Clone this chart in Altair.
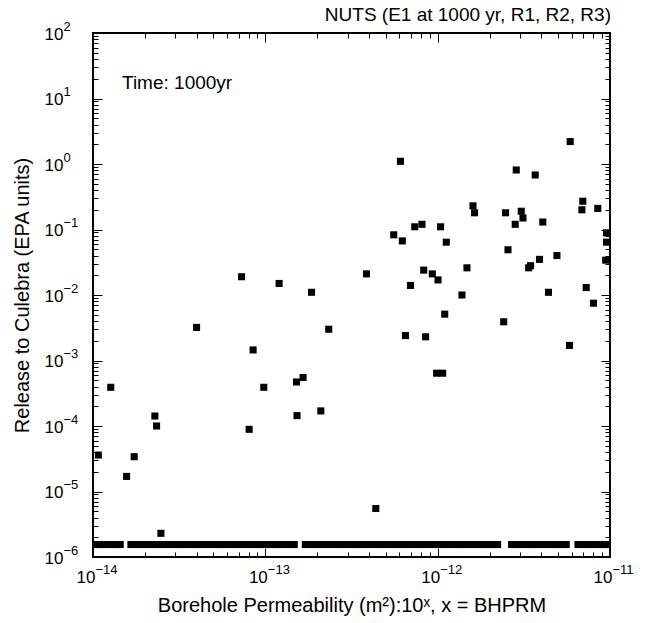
import altair as alt
import pandas as pd

W, H = 517, 524
FONT = "Liberation Sans"

# BHPRM (exponent of borehole permeability) and release for points above the floor
pt_bhprm = [
    -13.138, -12.920, -12.732, -12.413, -11.231, -12.216, -11.544, -11.434,
    -11.795, -11.786, -11.158, -11.163, -11.071, -11.606, -11.515, -11.505,
    -11.550, -11.390, -12.133, -12.091, -11.983, -12.255, -12.205, -11.950,
    -11.592, -11.308, -11.409, -11.461, -11.472, -11.020, -11.020, -11.025,
    -12.081, -12.031, -11.998, -11.830, -12.158, -11.859, -11.357, -11.138,
    -11.096, -13.399, -12.632, -13.071, -13.897, -13.009, -12.819, -12.781,
    -13.641, -13.631, -12.816, -12.678, -13.094, -13.969, -13.761, -13.805,
    -13.606, -12.359, -11.959, -11.617, -12.187, -12.070, -11.235, -12.006,
    -11.971,
]
pt_release = [
    1.9e-2, 1.5e-2, 1.1e-2, 2.1e-2, 2.2, 1.1, 0.81, 0.68,
    0.23, 0.18, 0.27, 0.20, 0.21, 0.18, 0.19, 0.15,
    0.12, 0.13, 0.11, 0.12, 0.11, 0.083, 0.067, 0.064,
    0.049, 0.040, 0.035, 0.028, 0.026, 0.089, 0.064, 0.034,
    0.024, 0.021, 0.017, 0.026, 0.014, 0.010, 0.011, 0.013,
    0.0075, 3.2e-3, 3.0e-3, 1.45e-3, 3.9e-4, 3.9e-4, 4.7e-4, 5.5e-4,
    1.42e-4, 1.0e-4, 1.44e-4, 1.7e-4, 8.9e-5, 3.6e-5, 3.4e-5, 1.7e-5,
    2.3e-6, 5.5e-6, 5.1e-3, 3.9e-3, 2.4e-3, 2.3e-3, 1.7e-3, 6.4e-4,
    6.4e-4,
]

# BHPRM of the realisations whose release is at the plotting floor
floor_bhprm = [
    -13.980, -13.955, -13.928, -13.899, -13.870, -13.842,
    -13.780, -13.752, -13.721, -13.694, -13.663, -13.637, -13.606, -13.578,
    -13.549, -13.520, -13.492, -13.461, -13.433, -13.404, -13.376, -13.345,
    -13.318, -13.287, -13.259, -13.230, -13.201, -13.172, -13.143, -13.115,
    -13.084, -13.057, -13.027, -12.998, -12.970, -12.941, -12.913, -12.884,
    -12.857, -12.832,
    -12.768, -12.740, -12.711, -12.682, -12.651, -12.624, -12.594, -12.566,
    -12.537, -12.507, -12.479, -12.450, -12.421, -12.393, -12.362, -12.335,
    -12.305, -12.277, -12.248, -12.219, -12.190, -12.161, -12.133, -12.104,
    -12.075, -12.046, -12.017, -11.989, -11.958, -11.930, -11.902, -11.872,
    -11.844, -11.815, -11.786, -11.757, -11.728, -11.699, -11.681, -11.652,
    -11.571, -11.543, -11.513, -11.485, -11.455, -11.427, -11.398, -11.369,
    -11.340, -11.311, -11.282, -11.254,
    -11.186, -11.157, -11.128, -11.100, -11.071, -11.045, -11.025,
]
FLOOR = 1.55e-6

x_major = [1e-14, 1e-13, 1e-12, 1e-11]
y_major = [1e-6, 1e-5, 1e-4, 1e-3, 1e-2, 1e-1, 1e0, 1e1, 1e2]
x_minor = [m * d for d in x_major[:-1] for m in range(2, 10)]
y_minor = [m * d for d in y_major[:-1] for m in range(2, 10)]

df = pd.DataFrame({
    "perm": [10.0 ** b for b in pt_bhprm + floor_bhprm],
    "release": pt_release + [FLOOR] * len(floor_bhprm),
})

xs = alt.Scale(type="log", domain=[1e-14, 1e-11], nice=False)
ys = alt.Scale(type="log", domain=[1e-6, 1e2], nice=False)

EXP = ("round(log(datum.value)/LN10) < 0 ? '\u2212' + (-round(log(datum.value)/LN10))"
       " : '' + round(log(datum.value)/LN10)")

BASE_FS = 17
EXP_FS = 13
TITLE_FS = 20


def label_axis(orient, expr, align, baseline, padding, offset, size, **kw):
    return alt.Axis(orient=orient, values=(x_major if orient == "bottom" else y_major),
                    labelExpr=expr, labelAlign=align, labelBaseline=baseline,
                    labelPadding=padding, labelOffset=offset, labelFontSize=size,
                    labelFont=FONT, labelColor="black", labelFlush=False,
                    labelOverlap=False, ticks=False, tickSize=0, domain=False,
                    grid=False, **kw)


def tick_axis(orient, offset, values, size):
    return alt.Axis(orient=orient, offset=offset, values=values, tickSize=size,
                    ticks=True, labels=False, domain=False, grid=False, title=None,
                    tickColor="black", tickWidth=1)


base = alt.Chart(df)

points = base.mark_square(size=50, color="black", opacity=1).encode(
    x=alt.X("perm:Q", scale=xs,
            axis=label_axis("bottom", "'10'", "right", "alphabetic", 25, 2, BASE_FS,
                            title="Borehole Permeability (m\u00b2):10\u02e3, x = BHPRM",
                            titleFont=FONT, titleFontSize=TITLE_FS, titleFontWeight="normal",
                            titleColor="black", titleX=W / 2, titleY=48,
                            titleBaseline="middle", titleAlign="center")),
    y=alt.Y("release:Q", scale=ys,
            axis=label_axis("left", "'10'", "right", "middle", 30, 1, BASE_FS,
                            title="Release to Culebra (EPA units)",
                            titleFont=FONT, titleFontSize=TITLE_FS, titleFontWeight="normal",
                            titleColor="black", titleX=-71, titleY=H / 2,
                            titleBaseline="middle", titleAlign="center", titleAngle=270)),
)

exponents = base.mark_point(opacity=0).encode(
    x=alt.X("perm:Q", scale=xs,
            axis=label_axis("bottom", EXP, "left", "alphabetic", 16, 2, EXP_FS, title=None)),
    y=alt.Y("release:Q", scale=ys,
            axis=label_axis("left", EXP, "left", "middle", 30, -7, EXP_FS, title=None)),
)


def ticks_layer(xo, yo, xv, yv, size):
    return base.mark_point(opacity=0).encode(
        x=alt.X("perm:Q", scale=xs, axis=tick_axis(xo, -H, xv, size)),
        y=alt.Y("release:Q", scale=ys, axis=tick_axis(yo, -W, yv, size)),
    )


t1 = ticks_layer("top", "right", x_major, y_major, 9)
t2 = ticks_layer("top", "right", x_minor, y_minor, 5)
t3 = ticks_layer("bottom", "left", x_major, y_major, 9)
t4 = ticks_layer("bottom", "left", x_minor, y_minor, 5)

note = alt.Chart(pd.DataFrame({"label": ["Time: 1000yr"]})).mark_text(
    align="left", baseline="middle", fontSize=19, font=FONT, color="black"
).encode(x=alt.value(29), y=alt.value(50), text="label:N")

heading = alt.Chart(pd.DataFrame({"label": ["NUTS (E1 at 1000 yr, R1, R2, R3)"]})).mark_text(
    align="right", baseline="middle", fontSize=19, font=FONT, color="black"
).encode(x=alt.value(W + 1), y=alt.value(-18), text="label:N")

chart = alt.layer(points, exponents, t1, t2, t3, t4, note, heading).resolve_axis(
    x="independent", y="independent"
).properties(
    width=W, height=H,
    autosize=alt.AutoSizeParams(type="none"),
    padding={"left": 93, "top": 33, "right": 658 - 93 - W, "bottom": 623 - 33 - H},
).configure(font=FONT, background="white").configure_view(stroke="black", strokeWidth=2)

chart.save("out.html", embed_options={"renderer": "svg", "actions": False})
